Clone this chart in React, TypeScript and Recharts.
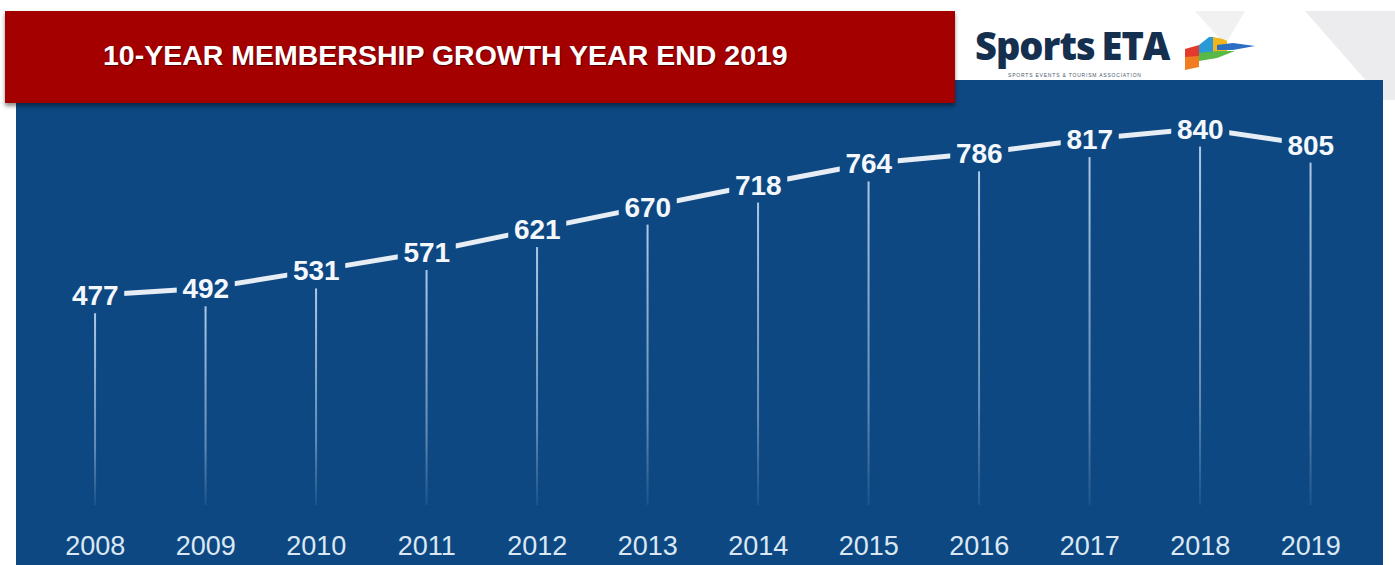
import { ComposedChart, Line, Bar, XAxis, YAxis, LabelList } from "recharts"

const years = ["2008", "2009", "2010", "2011", "2012", "2013", "2014", "2015", "2016", "2017", "2018", "2019"]
const members = [477, 492, 531, 571, 621, 670, 718, 764, 786, 817, 840, 805]

const BLUE = "#0e4882"
const RED = "#a50000"

const data = years.map((year, i) => ({ year, members: members[i] }))

// thin fading stem under each point, drawn through the bar's own geometry
function Stem(props: any) {
  const { x, y, width, height } = props
  const cx = x + width / 2
  return <rect x={cx - 1} y={y + 18} width={2} height={Math.max(0, height - 18)} fill="url(#stemFade)" />
}

function ValueLabel(props: any) {
  const { x, y, value } = props
  const w = String(value).length * 16 + 10
  return (
    <g>
      <rect x={x - w / 2} y={y - 17} width={w} height={34} fill={BLUE} />
      <text
        x={x}
        y={y}
        dy={10}
        textAnchor="middle"
        fill="#f4f8fc"
        fontSize={28}
        fontWeight="bold"
        fontFamily="'Liberation Sans', Arial, sans-serif"
      >
        {value}
      </text>
    </g>
  )
}

function Logo() {
  return (
    <div style={{ position: "absolute", left: 975, top: 0, width: 300, height: 80 }}>
      <div
        style={{
          position: "absolute",
          left: 0,
          top: 20,
          fontFamily: "'Open Sans', 'Liberation Sans', sans-serif",
          fontWeight: 800,
          fontSize: 38,
          color: "#15304f",
          letterSpacing: -1,
          whiteSpace: "nowrap",
          lineHeight: "51px",
        }}
      >
        Sports<span style={{ marginLeft: 7 }}>ETA</span>
      </div>
      <div
        style={{
          position: "absolute",
          left: 33,
          top: 72,
          fontFamily: "'Liberation Sans', sans-serif",
          fontSize: 5,
          lineHeight: "6px",
          color: "#4a5a6a",
          letterSpacing: 0.8,
          whiteSpace: "nowrap",
        }}
      >
        SPORTS EVENTS &amp; TOURISM ASSOCIATION
      </div>
      <svg width={80} height={40} style={{ position: "absolute", left: 208, top: 33 }}>
        <polygon points="2,16 16,12 16,28 2,32" fill="#e23b2e" />
        <polygon points="16,12 26,4 30,4 30,22 16,26" fill="#2a9ad6" />
        <polygon points="30,4 40,6 44,8 44,20 30,22" fill="#f2b51c" />
        <polygon points="16,20 34,18 52,18 34,25 16,28" fill="#58b947" />
        <polygon points="34,12 50,10 72,13 50,17 34,17" fill="#2a6fc4" />
        <polygon points="2,24 16,23 16,34 2,37" fill="#f07d22" />
      </svg>
    </div>
  )
}

export default function App() {
  return (
    <div style={{ position: "absolute", left: 0, top: 0, width: 1395, height: 565, background: "#fff", overflow: "hidden" }}>
      {/* light corner shapes */}
      <svg width={1395} height={120} style={{ position: "absolute", left: 0, top: 0 }}>
        <polygon points="1195,11 1245,11 1225,45" fill="#f1f1f2" />
        <polygon points="1305,11 1395,11 1395,100 1383,100" fill="#ececee" />
      </svg>
      <div style={{ position: "absolute", left: 16, top: 80, width: 1367, height: 485, background: BLUE }} />
      <div
        style={{
          position: "absolute",
          left: 5,
          top: 11,
          width: 950,
          height: 92,
          background: RED,
          boxShadow: "0 3px 4px rgba(0,0,0,0.45)",
        }}
      />
      <div
        style={{
          position: "absolute",
          left: 103,
          top: 38,
          color: "#fff",
          fontFamily: "'Liberation Sans', Arial, sans-serif",
          fontWeight: "bold",
          fontSize: 28.5,
          lineHeight: "34px",
          whiteSpace: "nowrap",
          textShadow: "1px 1px 1px rgba(0,0,0,0.5)",
        }}
      >
        10-YEAR MEMBERSHIP GROWTH YEAR END 2019
      </div>
      <Logo />
      <div style={{ position: "absolute", left: 0, top: 0 }}>
        <ComposedChart
          width={1395}
          height={565}
          data={data}
          margin={{ top: 101, right: 29, bottom: 0, left: 40 }}
        >
          <defs>
            <linearGradient id="stemFade" x1="0" y1="0" x2="0" y2="1">
              <stop offset="0%" stopColor="#b4cfea" stopOpacity={0.95} />
              <stop offset="70%" stopColor="#b4cfea" stopOpacity={0.5} />
              <stop offset="100%" stopColor="#b4cfea" stopOpacity={0.08} />
            </linearGradient>
          </defs>
          <XAxis
            dataKey="year"
            height={60}
            axisLine={false}
            tickLine={false}
            tickMargin={25}
            tick={{ fill: "#dbe8f4", fontSize: 27, fontFamily: "'Liberation Sans', Arial, sans-serif" }}
          />
          <YAxis hide domain={[20, 900]} />
          <Bar dataKey="members" shape={<Stem />} isAnimationActive={false} />
          <Line
            dataKey="members"
            stroke="#e6edf5"
            strokeWidth={5}
            dot={false}
            activeDot={false}
            isAnimationActive={false}
          >
            <LabelList dataKey="members" content={<ValueLabel />} />
          </Line>
        </ComposedChart>
      </div>
    </div>
  )
}
